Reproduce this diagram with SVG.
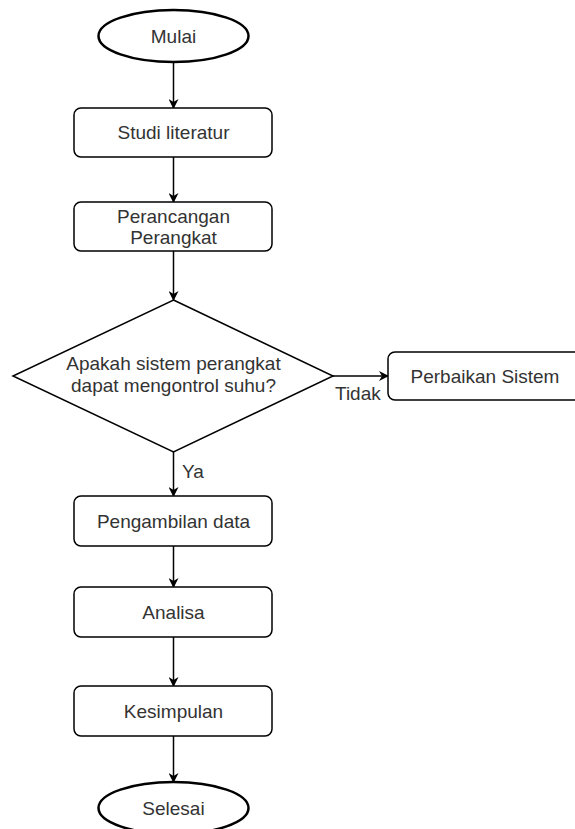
<svg xmlns="http://www.w3.org/2000/svg" width="575" height="829" viewBox="0 0 575 829">
<defs>
<marker id="arr" viewBox="0 0 10 10" refX="9" refY="5" markerWidth="10" markerHeight="10" markerUnits="userSpaceOnUse" orient="auto">
<path d="M0,0 L10,5 L0,10 L3,5 Z" fill="#000"/>
</marker>
</defs>
<style>
.box{fill:#fff;stroke:#000;stroke-width:1.5}
.term{fill:#fff;stroke:#000;stroke-width:2.5}
.t{font-family:"Liberation Sans",Arial,sans-serif;font-size:19px;fill:#333;text-anchor:middle}
.lbl{font-family:"Liberation Sans",Arial,sans-serif;font-size:19px;fill:#333}
.c{stroke:#000;stroke-width:1.5;fill:none;marker-end:url(#arr)}
</style>
<rect width="575" height="829" fill="#fff"/>
<g id="connectors">
<line class="c" x1="173.5" y1="62" x2="173.5" y2="108"/>
<line class="c" x1="173.5" y1="157" x2="173.5" y2="202"/>
<line class="c" x1="173.5" y1="251" x2="173.5" y2="300"/>
<line class="c" x1="333" y1="376" x2="388" y2="376"/>
<line class="c" x1="173.5" y1="452" x2="173.5" y2="496"/>
<line class="c" x1="173.5" y1="546" x2="173.5" y2="587"/>
<line class="c" x1="173.5" y1="637" x2="173.5" y2="686"/>
<line class="c" x1="173.5" y1="736" x2="173.5" y2="782"/>
<text class="lbl" x="335" y="400">Tidak</text>
<text class="lbl" x="182" y="478">Ya</text>
</g>
<g id="mulai">
<ellipse class="term" cx="173.5" cy="36" rx="75" ry="26"/>
<text class="t" x="173.5" y="43">Mulai</text>
</g>
<g id="studi">
<rect class="box" x="74" y="108" width="198" height="49" rx="7"/>
<text class="t" x="173.5" y="139">Studi literatur</text>
</g>
<g id="perancangan">
<rect class="box" x="74" y="202" width="198" height="49" rx="7"/>
<text class="t" x="173.5" y="223">Perancangan</text>
<text class="t" x="173.5" y="244">Perangkat</text>
</g>
<g id="keputusan">
<polygon class="box" points="173.5,300 333,376 173.5,452 13,376"/>
<text class="t" x="173.5" y="370">Apakah sistem perangkat</text>
<text class="t" x="173.5" y="392">dapat mengontrol suhu?</text>
</g>
<g id="perbaikan">
<rect class="box" x="388" y="352" width="194" height="48" rx="7"/>
<text class="t" x="485" y="383">Perbaikan Sistem</text>
</g>
<g id="pengambilan">
<rect class="box" x="74" y="496" width="198" height="50" rx="7"/>
<text class="t" x="173.5" y="528">Pengambilan data</text>
</g>
<g id="analisa">
<rect class="box" x="74" y="587" width="198" height="50" rx="7"/>
<text class="t" x="173.5" y="619">Analisa</text>
</g>
<g id="kesimpulan">
<rect class="box" x="74" y="686" width="198" height="50" rx="7"/>
<text class="t" x="173.5" y="718">Kesimpulan</text>
</g>
<g id="selesai">
<ellipse class="term" cx="173.5" cy="808" rx="75" ry="26"/>
<text class="t" x="173.5" y="815">Selesai</text>
</g>
</svg>
